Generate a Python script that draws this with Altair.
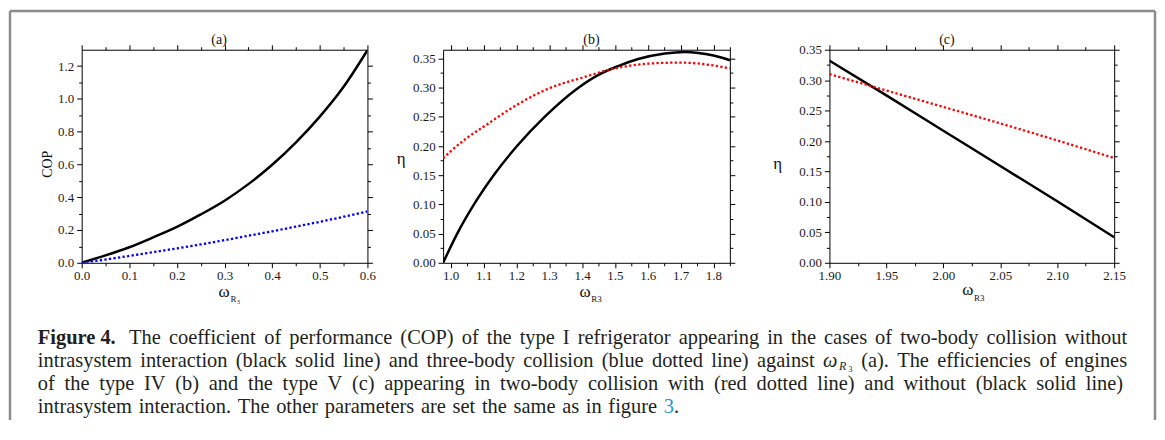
import altair as alt
import pandas as pd

SERIF = "Liberation Serif"
TXT = "#231f20"

# ---------------- data ----------------
# panel (a): COP of refrigerator
a_x = [0.0, 0.05, 0.1, 0.15, 0.2, 0.25, 0.3, 0.35, 0.4, 0.45, 0.5, 0.55, 0.6]
a_two_body = [0.0, 0.045, 0.095, 0.155, 0.219, 0.295, 0.379, 0.48, 0.598, 0.735, 0.892, 1.074, 1.297]
a_three_body = [0.0, 0.02, 0.042, 0.065, 0.088, 0.112, 0.138, 0.165, 0.192, 0.221, 0.25, 0.281, 0.313]

# panel (b): efficiency of type IV engine
b_x_without = [0.977, 1.02, 1.071, 1.131, 1.202, 1.286, 1.389, 1.45, 1.51, 1.571, 1.652, 1.712, 1.8, 1.85]
b_without = [0.0, 0.05, 0.10, 0.15, 0.20, 0.25, 0.30, 0.322, 0.337, 0.349, 0.3585, 0.3612, 0.355, 0.347]
b_x_with = [0.977, 1.0, 1.05, 1.1, 1.2, 1.3, 1.4, 1.5, 1.6, 1.7, 1.8, 1.85]
b_with = [0.179, 0.191, 0.214, 0.233, 0.27, 0.299, 0.317, 0.333, 0.341, 0.343, 0.338, 0.333]

# panel (c): efficiency of type V engine
c_x = [1.90, 1.95, 2.00, 2.05, 2.10, 2.15]
c_without = [0.332, 0.275, 0.217, 0.159, 0.101, 0.042]
c_with = [0.310, 0.283, 0.256, 0.229, 0.201, 0.172]

# tick labels
a_xmaj = [0.0, 0.1, 0.2, 0.3, 0.4, 0.5, 0.6]
a_xmin = [0.05, 0.15, 0.25, 0.35, 0.45, 0.55]
a_ymaj = [0.0, 0.2, 0.4, 0.6, 0.8, 1.0, 1.2]
a_ymin = [0.1, 0.3, 0.5, 0.7, 0.9, 1.1]
b_xmaj = [1.0, 1.1, 1.2, 1.3, 1.4, 1.5, 1.6, 1.7, 1.8]
b_xmin = [1.05, 1.15, 1.25, 1.35, 1.45, 1.55, 1.65, 1.75, 1.85]
eta_maj = [0.0, 0.05, 0.10, 0.15, 0.20, 0.25, 0.30, 0.35]
eta_min = [0.025, 0.075, 0.125, 0.175, 0.225, 0.275, 0.325]
c_xmaj = [1.90, 1.95, 2.00, 2.05, 2.10, 2.15]
c_xmin = [1.925, 1.975, 2.025, 2.075, 2.125]

# caption words, line by line
cap_line1 = ["Figure 4.", "The", "coefficient", "of", "performance", "(COP)", "of", "the", "type", "I",
             "refrigerator", "appearing", "in", "the", "cases", "of", "two-body", "collision", "without"]
cap_line2 = ["intrasystem", "interaction", "(black", "solid", "line)", "and", "three-body", "collision",
             "(blue", "dotted", "line)", "against", "ωR3", "(a).", "The", "efficiencies", "of", "engines"]
cap_line3 = ["of", "the", "type", "IV", "(b)", "and", "the", "type", "V", "(c)", "appearing", "in",
             "two-body", "collision", "with", "(red", "dotted", "line)", "and", "without", "(black",
             "solid", "line)"]
cap_line4 = ["intrasystem", "interaction.", "The", "other", "parameters", "are", "set", "the", "same",
             "as", "in", "figure", "3."]

ONE = pd.DataFrame({"k": [0]})

# Times / Liberation Serif advance widths (1/1000 em)
TW = dict(zip("abcdefghijklmnopqrstuvwxyz",
              [444, 500, 444, 500, 444, 333, 500, 500, 278, 278, 500, 278, 778, 500, 500, 500, 500,
               333, 389, 278, 500, 500, 722, 500, 500, 444]))
TW.update(dict(zip("ABCDEFGHIJKLMNOPQRSTUVWXYZ",
                   [722, 667, 667, 722, 611, 556, 722, 722, 333, 389, 722, 611, 889, 722, 722, 556,
                    722, 667, 556, 611, 722, 722, 944, 722, 722, 611])))
TW.update({" ": 250, "(": 333, ")": 333, ".": 250, "-": 333, ",": 250, "3": 500, "4": 500})
TWB = dict(TW)
TWB.update({"F": 611, "u": 556, "r": 444})


def df_of(xs, ys):
    return pd.DataFrame({"x": xs, "y": ys})


def axis(orient, values, labels=False, tick=5, domain=True, fmt=None, offset=None):
    kw = dict(orient=orient, values=values, labels=labels, tickSize=tick, domain=domain,
              grid=False, title=None, ticks=True, tickColor="#000", domainColor="#000",
              tickWidth=1, domainWidth=1)
    if labels:
        kw.update(labelFont=SERIF, labelFontSize=13, labelColor="#1a1a1a",
                  labelFlush=False, labelOverlap=False, format=fmt,
                  labelPadding=3 if orient == "left" else 2)
    if offset is not None:
        kw["offset"] = offset
    return alt.Axis(**kw)


def txt(s, x, y, size=20.5, weight="normal", style="normal", align="left",
        color=TXT, angle=None, baseline="alphabetic"):
    kw = dict(text=s, align=align, baseline=baseline, font=SERIF, fontSize=size,
              fontWeight=weight, fontStyle=style, color=color)
    if angle is not None:
        kw["angle"] = angle
    return alt.Chart(ONE).mark_text(**kw).encode(x=alt.value(x), y=alt.value(y))


# ---------------- caption layout (justified, word by word) ----------------
CF = 20.5          # caption font size
OX, OY = 81, 48    # page position of panel (a) plot origin


def word_w(w):
    if w == "Figure 4.":
        return sum(TWB.get(c, 500) for c in w) * CF / 1000 + 5
    if w == "ωR3":
        return 30.0
    return sum(TW.get(c, 500) for c in w) * CF / 1000


def word_marks(w, x, y):
    if w == "Figure 4.":
        return [txt(w, x, y, weight="bold")]
    if w == "ωR3":
        return [txt("ω", x, y, style="italic"),
                txt("R", x + 16, y + 3, size=12, style="italic"),
                txt("3", x + 25.5, y + 4.5, size=8)]
    if w == "3.":
        return [txt("3", x, y, color="#1f9ad6"), txt(".", x + 500 * CF / 1000, y)]
    return [txt(w, x, y)]


def justified(words, x0, x1, base):
    widths = [word_w(w) for w in words]
    gap = (x1 - x0 - sum(widths)) / (len(words) - 1)
    gap = max(gap, 250 * CF / 1000)
    marks, x = [], x0
    for w, wd in zip(words, widths):
        marks += word_marks(w, x - OX, base - OY)
        x += wd + gap
    return marks


caption = (justified(cap_line1, 37, 1131, 344)
           + justified(cap_line2, 37, 1131, 367)
           + justified(cap_line3, 37, 1127, 390)
           + justified(cap_line4, 37, 681, 413))


def panel(series, xdom, ydom, xmaj, xmin, ymaj, ymin, xfmt, yfmt, width, height,
          rng=None, right_offset=None, extras=()):
    sc_kw = dict(domain=xdom, nice=False, zero=False)
    if rng is not None:
        sc_kw["range"] = [0, rng]
    xs = alt.Scale(**sc_kw)
    ys = alt.Scale(domain=ydom, nice=False, zero=False)
    layers = []
    for i, (d, color, dash, sw) in enumerate(series):
        mk = dict(color=color, strokeWidth=sw, interpolate="monotone", clip=True)
        if dash:
            mk["strokeDash"] = dash
            mk["strokeCap"] = "butt"
        if i == 0:
            ex = alt.X("x:Q", scale=xs, axis=axis("bottom", xmaj, labels=True, fmt=xfmt))
            ey = alt.Y("y:Q", scale=ys, axis=axis("left", ymaj, labels=True, fmt=yfmt))
        else:
            ex = alt.X("x:Q", scale=xs, axis=None)
            ey = alt.Y("y:Q", scale=ys, axis=None)
        layers.append(alt.Chart(d).mark_line(**mk).encode(x=ex, y=ey))
    d0 = series[0][0]
    layers.append(alt.Chart(d0).mark_point(opacity=0, size=1).encode(
        x=alt.X("x:Q", scale=xs, axis=axis("bottom", xmin, tick=3, domain=False)),
        y=alt.Y("y:Q", scale=ys, axis=axis("left", ymin, tick=3, domain=False))))
    layers.append(alt.Chart(d0).mark_point(opacity=0, size=1).encode(
        x=alt.X("x:Q", scale=xs, axis=axis("top", xmaj)),
        y=alt.Y("y:Q", scale=ys, axis=axis("right", ymaj, offset=right_offset))))
    layers.append(alt.Chart(d0).mark_point(opacity=0, size=1).encode(
        x=alt.X("x:Q", scale=xs, axis=axis("top", xmin, tick=3, domain=False)),
        y=alt.Y("y:Q", scale=ys, axis=axis("right", ymin, tick=3, domain=False,
                                            offset=right_offset))))
    layers.extend(extras)
    return alt.layer(*layers).resolve_axis(x="independent", y="independent").properties(
        width=width, height=height)


H = 214
FRAME = "#8c8c8c"
DOT = [2.3, 2.3]

frame = [
    alt.Chart(ONE).mark_rule(color=FRAME, strokeWidth=2.5).encode(
        x=alt.value(-72), y=alt.value(-39), y2=alt.value(372)),
    alt.Chart(ONE).mark_rule(color=FRAME, strokeWidth=2.5).encode(
        x=alt.value(-72), x2=alt.value(1078), y=alt.value(-39)),
    alt.Chart(ONE).mark_rule(color=FRAME, strokeWidth=2.5).encode(
        x=alt.value(1078), y=alt.value(-39), y2=alt.value(372)),
]

a_extra = frame + caption + [
    txt("(a)", 138, -6, size=14, align="center", color="#111"),
    txt("COP", -34, 115, size=14, align="center", baseline="middle", angle=270, color="#111"),
    txt("ω", 143, 243, size=17, align="center", baseline="middle", color="#111"),
    txt("R", 152.5, 250.5, size=9, align="center", baseline="middle", color="#111"),
    txt("3", 157.5, 253, size=6, align="center", baseline="middle", color="#111"),
]
b_extra = [
    txt("(b)", 149, -6, size=14, align="center", color="#111"),
    txt("η", -42, 110, size=17, align="center", baseline="middle", color="#111"),
    txt("ω", 142.5, 243, size=17, align="center", baseline="middle", color="#111"),
    txt("R3", 154, 250, size=9, align="center", baseline="middle", color="#111"),
]
c_extra = [
    txt("(c)", 118, -6, size=14, align="center", color="#111"),
    txt("η", -52, 115, size=17, align="center", baseline="middle", color="#111"),
    txt("ω", 139, 241, size=17, align="center", baseline="middle", color="#111"),
    txt("R3", 150.5, 249.5, size=9, align="center", baseline="middle", color="#111"),
]

pa = panel([(df_of(a_x, a_two_body), "#000000", None, 2.5),
            (df_of(a_x, a_three_body), "#0000ff", DOT, 2.3)],
           [0, 0.6], [0, 1.3], a_xmaj, a_xmin, a_ymaj, a_ymin, ".1f", ".1f",
           287, H, extras=a_extra)
pb = panel([(df_of(b_x_without, b_without), "#000000", None, 2.5),
            (df_of(b_x_with, b_with), "#ff0000", DOT, 2.3)],
           [0.977, 1.85], [0, 0.365], b_xmaj, b_xmin, eta_maj, eta_min, ".1f", ".2f",
           312, H, rng=288, right_offset=-24, extras=b_extra)
pc = panel([(df_of(c_x, c_without), "#000000", None, 2.5),
            (df_of(c_x, c_with), "#ff0000", DOT, 2.3)],
           [1.90, 2.15], [0, 0.35], c_xmaj, c_xmin, eta_maj, eta_min, ".2f", ".2f",
           286, H, extras=c_extra)

chart = alt.hconcat(pa, pb, pc, spacing=76, bounds="flush").properties(
    padding=0, background="white"
).configure_view(stroke=None)

chart.save("out.html", embed_options={"renderer": "svg", "actions": False})
